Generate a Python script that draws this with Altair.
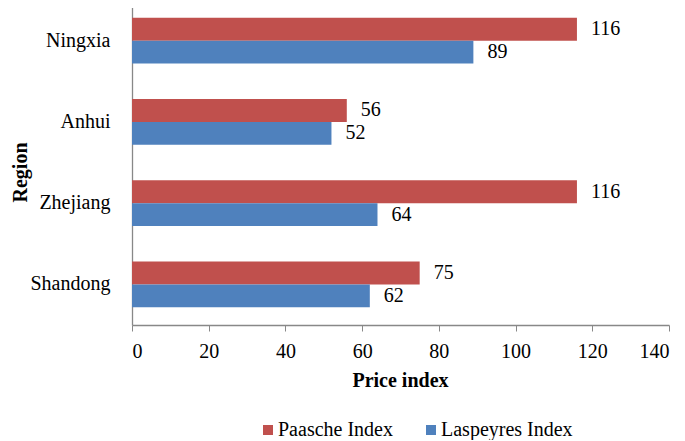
import altair as alt
import pandas as pd

regions = ["Ningxia", "Anhui", "Zhejiang", "Shandong"]
series = ["Paasche Index", "Laspeyres Index"]
paasche = [116, 56, 116, 75]
laspeyres = [89, 52, 64, 62]
x_ticks = [0, 20, 40, 60, 80, 100, 120, 140]
colors = ["#C0504D", "#4F81BD"]

rows = []
for r, p, l in zip(regions, paasche, laspeyres):
    rows.append({"Region": r, "Index": series[0], "Value": p})
    rows.append({"Region": r, "Index": series[1], "Value": l})
df = pd.DataFrame(rows)

FONT = "Liberation Serif"

base = alt.Chart(df).encode(
    y=alt.Y(
        "Region:N",
        sort=regions,
        scale=alt.Scale(paddingInner=0.434, paddingOuter=0.217),
        axis=alt.Axis(
            title="Region",
            titleFont=FONT,
            titleFontSize=20,
            titleFontWeight="bold",
            titleColor="black",
            titleAngle=-90,
            titleX=-112,
            titleY=172,
            titleAlign="center",
            titleBaseline="middle",
            labelFont=FONT,
            labelFontSize=20,
            labelColor="black",
            labelPadding=22,
            ticks=False,
            domainColor="#888888",
            domainWidth=1.3,
        ),
    ),
    yOffset=alt.YOffset("Index:N", sort=series),
)

bars = base.mark_bar().encode(
    x=alt.X(
        "Value:Q",
        scale=alt.Scale(domain=[0, 140], nice=False),
        axis=alt.Axis(
            values=x_ticks,
            title="Price index",
            titleFont=FONT,
            titleFontSize=20,
            titleFontWeight="bold",
            titleColor="black",
            titleX=268,
            titleY=61,
            titleAlign="center",
            titleBaseline="alphabetic",
            labelFont=FONT,
            labelFontSize=20,
            labelColor="black",
            labelPadding=10,
            tickSize=6,
            tickColor="#888888",
            domainColor="#888888",
            domainWidth=1.3,
            grid=False,
        ),
    ),
    color=alt.Color(
        "Index:N",
        sort=series,
        scale=alt.Scale(domain=series, range=colors),
        legend=alt.Legend(
            title=None,
            orient="none",
            legendX=126,
            legendY=420,
            direction="horizontal",
            symbolType="square",
            symbolSize=100,
            symbolStrokeWidth=0,
            labelFont=FONT,
            labelFontSize=20,
            labelColor="black",
            labelOffset=0,
            columnPadding=28,
            padding=0,
        ),
    ),
)

labels = base.mark_text(
    align="left", baseline="middle", dx=14, font=FONT, fontSize=20, color="black"
).encode(
    x=alt.X("Value:Q"),
    text=alt.Text("Value:Q"),
)

chart = (
    alt.layer(bars, labels)
    .properties(
        width=537,
        height=325,
        autosize=alt.AutoSizeParams(type="none"),
        padding={"left": 124, "top": -8, "right": 8, "bottom": 115},
    )
    .configure_view(stroke=None)
)

chart.save("out.html", embed_options={"renderer": "svg", "actions": False})
